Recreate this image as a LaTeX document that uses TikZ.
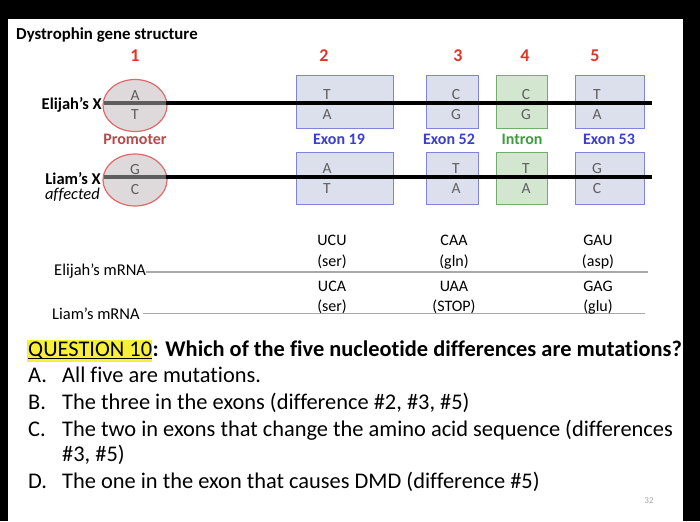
\documentclass[tikz,border=0pt]{standalone}
\usepackage{fontspec}
\setmainfont{Carlito}[Ligatures=NoCommon]
\usetikzlibrary{shapes.geometric}
\definecolor{redn}{HTML}{E5332A}
\definecolor{boxfill}{HTML}{DCDFEC}
\definecolor{boxdraw}{HTML}{7F84DA}
\definecolor{grnfill}{HTML}{D2E6D0}
\definecolor{grndraw}{HTML}{72AD6E}
\definecolor{exblue}{HTML}{3B3FD0}
\definecolor{ingreen}{HTML}{3F9C3F}
\definecolor{promred}{HTML}{B5494B}
\definecolor{ellfill}{HTML}{DEDADC}
\definecolor{elldraw}{HTML}{E06A6A}
\definecolor{lettergray}{HTML}{5E5E5E}
\definecolor{mgray}{HTML}{A8A8A8}
\definecolor{hl}{HTML}{F7F035}
\newcommand{\fsz}[1]{\fontsize{#1}{#1}\selectfont}
\begin{document}
\begin{tikzpicture}[x=1pt,y=-1pt,
  txt/.style={inner sep=0pt, anchor=base},
  numlbl/.style={txt, text=redn, font=\fsz{18}\bfseries},
  letter/.style={txt, text=lettergray, font=\fsz{15.5}},
  exbox/.style={rectangle, inner sep=0pt, anchor=north west, draw=boxdraw, fill=boxfill, line width=1.2pt},
  inbox/.style={exbox, draw=grndraw, fill=grnfill},
  ell/.style={ellipse, inner sep=0pt, minimum width=64pt, minimum height=52pt, draw=elldraw, fill=ellfill, line width=1.2pt},
  dna/.style={line width=4pt, black},
  dnain/.style={line width=4pt, lettergray},
  exlbl/.style={txt, text=exblue, font=\fsz{16}\bfseries},
  rowlbl/.style={inner sep=0pt, anchor=base east, font=\fsz{16.5}\bfseries},
  mtxt/.style={txt, font=\fsz{16}},
  mline/.style={mgray, line width=1.2pt},
  qtxt/.style={inner sep=0pt, anchor=base west, font=\fsz{22.4}}
]
\useasboundingbox (0,0) rectangle (700,521);
\fill[black] (0,0) rectangle (700,521);
\fill[white] (8,19) rectangle (683,521);

% title
\node[inner sep=0pt, anchor=base west, font=\fsz{16.8}\bfseries] (title) at (16,39.3) {Dystrophin gene structure};

% numbers
\node[numlbl] (n1) at (135,61.5) {1};
\node[numlbl] (n2) at (324,61.5) {2};
\node[numlbl] (n3) at (458,61.5) {3};
\node[numlbl] (n4) at (525,61.5) {4};
\node[numlbl] (n5) at (595,61.5) {5};

% boxes Elijah
\node[exbox, minimum width=97pt, minimum height=53pt] (b2e) at (296,75) {};
\node[exbox, minimum width=52pt, minimum height=53pt] (b3e) at (426,75) {};
\node[inbox, minimum width=51pt, minimum height=53pt] (b4e) at (496,75) {};
\node[exbox, minimum width=69pt, minimum height=53pt] (b5e) at (575,75) {};
% boxes Liam
\node[exbox, minimum width=97pt, minimum height=52pt] (b2l) at (296,152) {};
\node[exbox, minimum width=52pt, minimum height=52pt] (b3l) at (426,152) {};
\node[inbox, minimum width=51pt, minimum height=52pt] (b4l) at (496,152) {};
\node[exbox, minimum width=69pt, minimum height=52pt] (b5l) at (575,152) {};

% ellipses
\node[ell] (e1) at (135,105.5) {};
\node[ell] (e2) at (135,180) {};

% DNA lines
\coordinate (eR) at (652,103);
\coordinate (lR) at (652,177);
\coordinate (e1w) at (104,103);
\coordinate (e1e) at (166,103);
\coordinate (e2w) at (104,177);
\coordinate (e2e) at (166,177);
\draw[dnain] (e1w) -- (e1e);
\draw[dna] (e1e) -- (eR);
\draw[dnain] (e2w) -- (e2e);
\draw[dna] (e2e) -- (lR);

% ellipse letters
\node[letter] (e1a) at (135,101) {A};
\node[letter] (e1t) at (135,120) {T};
\node[letter] (e2g) at (135,174.5) {G};
\node[letter] (e2c) at (135,194) {C};

% box letters
\node[letter] (b2et) at (327,100) {T};
\node[letter] (b2ea) at (327,119.3) {A};
\node[letter] (b3ec) at (456,100) {C};
\node[letter] (b3eg) at (456,119.3) {G};
\node[letter] (b4ec) at (526,100) {C};
\node[letter] (b4eg) at (526,119.3) {G};
\node[letter] (b5et) at (597,100) {T};
\node[letter] (b5ea) at (597,119.3) {A};
\node[letter] (b2la) at (327,173.3) {A};
\node[letter] (b2lt) at (327,193.3) {T};
\node[letter] (b3lt) at (456,173.3) {T};
\node[letter] (b3la) at (456,193.3) {A};
\node[letter] (b4lt) at (526,173.3) {T};
\node[letter] (b4la) at (526,193.3) {A};
\node[letter] (b5lg) at (597,173.3) {G};
\node[letter] (b5lc) at (597,193.3) {C};

% region labels
\node[exlbl, text=promred] (prom) at (135,145) {Promoter};
\node[exlbl] (ex19) at (339,145) {Exon 19};
\node[exlbl] (ex52) at (449,145) {Exon 52};
\node[exlbl, text=ingreen] (intr) at (522,145) {Intron};
\node[exlbl] (ex53) at (609,145) {Exon 53};

% row labels
\node[rowlbl] (elx) at (102,110) {Elijah’s X};
\node[rowlbl] (lix) at (101,184.5) {Liam’s X};
\node[inner sep=0pt, anchor=base east, font=\fsz{16.5}\itshape] (aff) at (100,199.5) {affected};

% mRNA
\node[inner sep=0pt, anchor=base west, font=\fsz{16.5}] (em) at (54,275.7) {Elijah’s mRNA};
\node[inner sep=0pt, anchor=base west, font=\fsz{16.5}] (lm) at (52,319) {Liam’s mRNA};
\coordinate (emR) at (648,272);
\coordinate (lmR) at (645,313.3);
\coordinate (lmL) at (143,313.3);
\draw[mline] (em.east |- emR) -- (emR);
\draw[mline] (lmL) -- (lmR);

\node[mtxt] (c1e) at (332,245.7) {UCU};
\node[mtxt] (a1e) at (332,266) {(ser)};
\node[mtxt] (c2e) at (454,245.7) {CAA};
\node[mtxt] (a2e) at (454,266) {(gln)};
\node[mtxt] (c3e) at (598,245.7) {GAU};
\node[mtxt] (a3e) at (598,266) {(asp)};
\node[mtxt] (c1l) at (332,291) {UCA};
\node[mtxt] (a1l) at (332,311.5) {(ser)};
\node[mtxt] (c2l) at (454,291) {UAA};
\node[mtxt] (a2l) at (454,311.5) {(STOP)};
\node[mtxt] (c3l) at (598,291) {GAG};
\node[mtxt] (a3l) at (598,311.5) {(glu)};

% question
\node[rectangle, inner sep=0pt, anchor=north west, fill=hl, minimum width=125pt, minimum height=22pt] (hlbox) at (27,340) {};
\node[qtxt] (q10) at (28,356) {QUESTION 10};
\draw[line width=1pt] ([yshift=-2.6pt]q10.base west) -- ([yshift=-2.6pt]q10.base east);
\node[qtxt, font=\fsz{22.4}\bfseries] (qtext) at (q10.base east) {: Which of the five nucleotide differences are mutations?};

\node[qtxt] (la) at (28,382.7) {A.};
\node[qtxt] (ta) at (62,382.7) {All five are mutations.};
\node[qtxt] (lb) at (28,409.3) {B.};
\node[qtxt] (tb) at (62,409.3) {The three in the exons (difference \#2, \#3, \#5)};
\node[qtxt] (lc) at (28,436) {C.};
\node[qtxt] (tc) at (62,436) {The two in exons that change the amino acid sequence (differences};
\node[qtxt] (tc2) at (62,461.7) {\#3, \#5)};
\node[qtxt] (ld) at (28,488.3) {D.};
\node[qtxt] (td) at (62,488.3) {The one in the exon that causes DMD (difference \#5)};

\node[inner sep=0pt, anchor=base, font=\fsz{9}, text=mgray] (pg) at (649,503) {32};
\end{tikzpicture}
\end{document}
